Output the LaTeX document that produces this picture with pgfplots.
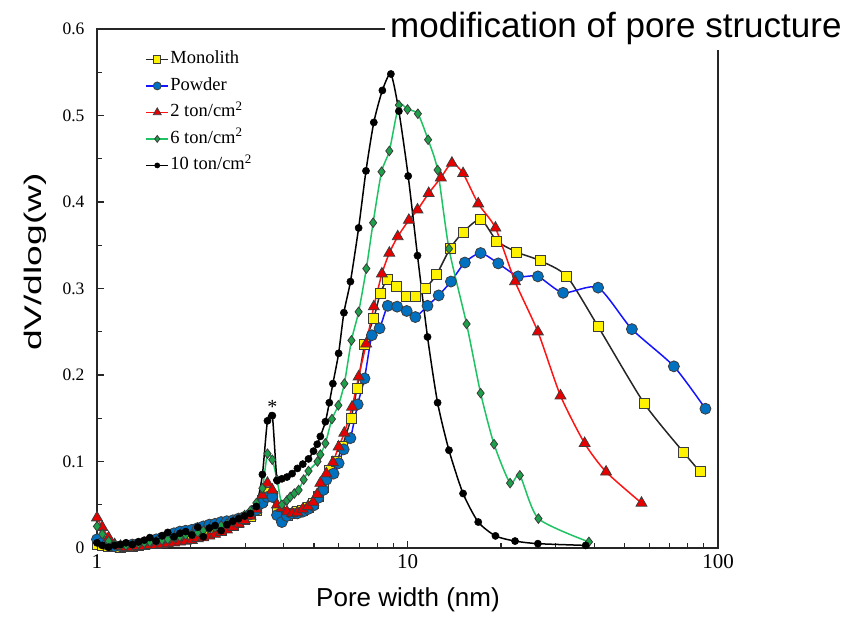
\documentclass[border=0pt]{standalone}
\usepackage{fontspec}
\setmainfont{Liberation Serif}
\newfontfamily\arial{Liberation Sans}
\usepackage{graphicx}
\usepackage{pgfplots}
\pgfplotsset{compat=1.18}
\definecolor{mkedge}{RGB}{60,60,60}
\definecolor{pblue}{RGB}{0,112,192}
\definecolor{lblue}{RGB}{20,20,255}
\definecolor{lgreen}{RGB}{30,195,100}
\definecolor{mgreen}{RGB}{30,160,75}
\definecolor{lred}{RGB}{255,20,20}
\definecolor{mred}{RGB}{230,0,0}
\begin{document}
\begin{tikzpicture}
\begin{axis}[
 scale only axis, width=621pt, height=519pt,
 xmode=log, xmin=1, xmax=100, ymin=0, ymax=0.6,
 xtick={1,10,100}, xticklabels={1,10,100},
 minor xtick={2,3,4,5,6,7,8,9,20,30,40,50,60,70,80,90},
 ytick={0,0.1,0.2,0.3,0.4,0.5,0.6}, yticklabels={0,0.1,0.2,0.3,0.4,0.5,0.6},
 minor ytick={0.05,0.15,0.25,0.35,0.45,0.55},
 xtick pos=bottom, ytick pos=left, tick align=inside,
 major tick length=7pt, minor tick length=5pt,
 axis line style={line width=1.4pt, draw=black!85},
 every tick/.style={line width=1.1pt, black!85},
 x tick label style={font=\fontsize{21}{24}\selectfont, yshift=-3pt},
 y tick label style={font=\fontsize{17.5}{20}\selectfont, xshift=-9pt},
 xlabel={Pore width (nm)}, ylabel={\scalebox{1.55}[1]{dV/dlog(w)}},
 xlabel style={font=\arial\fontsize{26}{30}\selectfont, at={(axis description cs:0.5008,-0.100)}, anchor=center},
 ylabel style={font=\arial\fontsize{24}{28}\selectfont, at={(axis description cs:-0.0998,0.551)}, anchor=center},
 legend style={at={(axis description cs:0.078,0.9615)}, anchor=north west, draw=none, fill=none,
   font=\fontsize{18.5}{20}\selectfont, row sep=6pt, inner sep=0pt,
   nodes={inner sep=1.5pt, text height=13pt, text depth=4.5pt}},
 legend cell align=left,
 legend image code/.code={\draw[mark repeat=2,mark phase=2, every mark/.append style={scale=0.72}, line width=1.2pt] plot coordinates {(0pt,0pt)(11pt,0pt)(22pt,0pt)};},
 clip=true,
]
\addplot[black!85, line width=1.5pt, smooth, tension=0.4, mark=square*, mark size=5pt,
  mark options={solid, fill=yellow, draw=mkedge, line width=0.8pt}] coordinates {
(1.00,0.004)(1.04,0.003)(1.09,0.002)(1.14,0.002)(1.19,0.001)(1.24,0.002)(1.30,0.002)(1.36,0.003)(1.42,0.004)(1.48,0.005)(1.55,0.006)(1.62,0.007)(1.69,0.008)(1.77,0.009)(1.85,0.010)(1.93,0.011)(2.02,0.013)(2.11,0.014)(2.20,0.016)(2.30,0.018)(2.40,0.020)(2.51,0.022)(2.62,0.024)(2.74,0.027)(2.86,0.030)(2.99,0.033)(3.12,0.037)(3.26,0.043)(3.41,0.055)(3.54,0.064)(3.67,0.060)(3.80,0.042)(3.94,0.036)(4.09,0.038)(4.25,0.040)(4.42,0.042)(4.60,0.044)(4.78,0.047)(4.97,0.052)(5.16,0.060)(5.36,0.070)(5.60,0.090)(5.91,0.100)(6.16,0.117)(6.58,0.150)(6.88,0.185)(7.28,0.235)(7.79,0.266)(8.17,0.294)(8.64,0.311)(9.2,0.303)(9.9,0.291)(10.6,0.291)(11.4,0.300)(12.4,0.316)(13.7,0.346)(15.1,0.365)(17.2,0.380)(19.4,0.355)(22.5,0.342)(26.8,0.332)(32.6,0.314)(41.1,0.256)(57.9,0.167)(77.3,0.111)(87.6,0.088)};
\addlegendentry{Monolith}
\addplot[lblue, line width=1.5pt, smooth, tension=0.4, mark=*, mark size=5.5pt,
  mark options={solid, fill=pblue, draw=mkedge, line width=0.8pt}] coordinates {
(1.00,0.010)(1.04,0.006)(1.09,0.003)(1.14,0.002)(1.19,0.002)(1.24,0.003)(1.30,0.004)(1.36,0.005)(1.42,0.006)(1.48,0.008)(1.55,0.010)(1.62,0.012)(1.69,0.014)(1.77,0.017)(1.85,0.019)(1.93,0.020)(2.02,0.021)(2.11,0.023)(2.20,0.025)(2.30,0.027)(2.40,0.028)(2.51,0.030)(2.62,0.031)(2.74,0.032)(2.86,0.034)(2.99,0.036)(3.12,0.039)(3.26,0.044)(3.41,0.052)(3.54,0.059)(3.67,0.059)(3.80,0.038)(3.94,0.030)(4.09,0.037)(4.25,0.040)(4.42,0.040)(4.60,0.042)(4.78,0.045)(4.97,0.049)(5.16,0.058)(5.35,0.067)(5.48,0.079)(5.78,0.086)(6.00,0.098)(6.23,0.114)(6.55,0.127)(6.91,0.166)(7.27,0.196)(7.68,0.246)(8.13,0.254)(8.64,0.280)(9.26,0.279)(9.94,0.274)(10.6,0.267)(11.6,0.280)(12.6,0.292)(13.8,0.308)(15.3,0.330)(17.2,0.341)(19.6,0.329)(22.7,0.314)(26.3,0.314)(31.7,0.295)(41.1,0.301)(52.8,0.253)(72.1,0.210)(91.1,0.161)};
\addlegendentry{Powder}
\addplot[lred, line width=1.5pt, smooth, tension=0.4, mark=triangle*, mark size=6.3pt,
  mark options={solid, fill=mred, draw=mkedge, line width=0.8pt}] coordinates {
(1.00,0.035)(1.04,0.024)(1.09,0.012)(1.14,0.004)(1.19,0.002)(1.24,0.001)(1.30,0.001)(1.36,0.002)(1.42,0.002)(1.48,0.003)(1.55,0.003)(1.62,0.004)(1.69,0.005)(1.77,0.006)(1.85,0.007)(1.93,0.008)(2.02,0.009)(2.11,0.011)(2.20,0.012)(2.30,0.014)(2.40,0.016)(2.51,0.018)(2.62,0.021)(2.74,0.024)(2.86,0.028)(2.99,0.032)(3.12,0.037)(3.26,0.045)(3.41,0.061)(3.54,0.075)(3.67,0.067)(3.80,0.050)(3.94,0.046)(4.09,0.042)(4.25,0.040)(4.42,0.041)(4.60,0.045)(4.78,0.048)(4.97,0.053)(5.12,0.062)(5.24,0.075)(5.48,0.086)(5.75,0.099)(6.00,0.117)(6.26,0.133)(6.63,0.163)(6.96,0.198)(7.36,0.236)(7.79,0.279)(8.27,0.317)(8.74,0.341)(9.30,0.360)(10.1,0.379)(10.77,0.391)(11.7,0.410)(12.8,0.428)(13.9,0.445)(15.1,0.433)(16.9,0.398)(19.2,0.370)(22.2,0.308)(26.3,0.250)(31.1,0.176)(37.2,0.121)(43.6,0.088)(56.7,0.052)};
\addlegendentry{2 ton/cm\textsuperscript{2}}
\addplot[lgreen, line width=1.5pt, smooth, tension=0.4, mark=diamond*, mark size=4.8pt,
  mark options={solid, fill=mgreen, draw=mkedge, line width=0.8pt}] coordinates {
(1.00,0.025)(1.04,0.016)(1.09,0.008)(1.14,0.004)(1.19,0.003)(1.24,0.003)(1.30,0.004)(1.36,0.005)(1.42,0.006)(1.48,0.007)(1.55,0.008)(1.62,0.009)(1.69,0.010)(1.77,0.012)(1.85,0.013)(1.93,0.015)(2.02,0.016)(2.11,0.018)(2.20,0.020)(2.30,0.022)(2.40,0.024)(2.51,0.026)(2.62,0.028)(2.74,0.031)(2.86,0.034)(2.99,0.038)(3.12,0.043)(3.26,0.052)(3.41,0.069)(3.54,0.109)(3.67,0.102)(3.80,0.079)(3.94,0.050)(4.09,0.055)(4.19,0.059)(4.32,0.063)(4.46,0.067)(4.63,0.079)(4.80,0.089)(5.13,0.100)(5.24,0.108)(5.44,0.121)(5.71,0.149)(5.99,0.165)(6.26,0.190)(6.60,0.240)(6.96,0.273)(7.37,0.323)(7.75,0.376)(8.25,0.435)(8.74,0.459)(9.38,0.512)(10.0,0.507)(10.8,0.502)(11.65,0.472)(12.5,0.437)(13.6,0.346)(15.5,0.259)(17.2,0.179)(19.0,0.120)(21.4,0.075)(23.0,0.084)(26.4,0.034)(38.4,0.007)};
\addlegendentry{6 ton/cm\textsuperscript{2}}
\addplot[black, line width=1.5pt, smooth, tension=0.4, mark=*, mark size=3.6pt,
  mark options={solid, fill=black, draw=black, line width=0.5pt}] coordinates {
(1.00,0.006)(1.04,0.003)(1.09,0.001)(1.14,0.003)(1.19,0.004)(1.24,0.006)(1.30,0.004)(1.36,0.007)(1.42,0.009)(1.48,0.012)(1.55,0.008)(1.62,0.014)(1.69,0.018)(1.77,0.013)(1.85,0.017)(1.93,0.019)(2.02,0.015)(2.11,0.024)(2.20,0.013)(2.30,0.023)(2.40,0.026)(2.51,0.020)(2.62,0.027)(2.74,0.031)(2.86,0.034)(2.99,0.037)(3.12,0.040)(3.26,0.048)(3.41,0.085)(3.54,0.147)(3.67,0.153)(3.80,0.078)(3.94,0.080)(4.09,0.082)(4.25,0.086)(4.42,0.092)(4.60,0.097)(4.80,0.103)(4.98,0.112)(5.12,0.120)(5.24,0.129)(5.44,0.146)(5.60,0.168)(5.75,0.190)(6.00,0.225)(6.24,0.272)(6.55,0.308)(6.96,0.370)(7.35,0.436)(7.79,0.492)(8.30,0.529)(8.84,0.548)(9.38,0.505)(10.05,0.430)(10.77,0.338)(11.6,0.244)(12.5,0.168)(13.6,0.113)(15.1,0.063)(16.9,0.030)(19.2,0.014)(22.2,0.008)(26.3,0.005)(37.5,0.003)};
\addlegendentry{10 ton/cm\textsuperscript{2}}
\node[font=\fontsize{20}{22}\selectfont] at (axis cs:3.67,0.163) {*};
\coordinate (LL) at (rel axis cs:0,0);
\coordinate (T) at (axis description cs:0.4638,0.9827);
\end{axis}
\node[fill=white, anchor=base west, inner sep=5pt, font=\arial\fontsize{35}{40}\selectfont] at (T) {modification of pore structure};
\path (LL) ++(-97pt,-69pt) rectangle ++(851pt,617pt);
\end{tikzpicture}
\end{document}
